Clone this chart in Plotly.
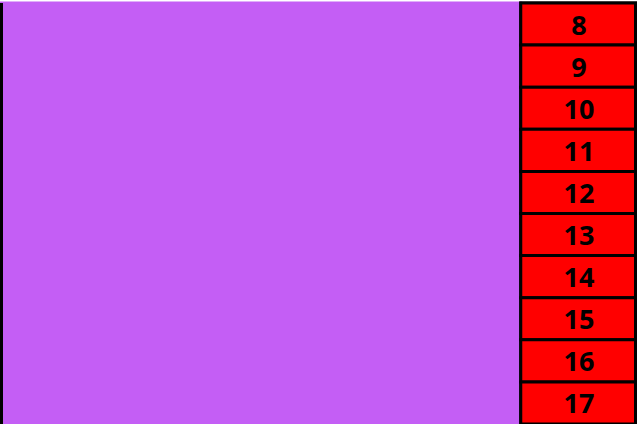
import plotly.graph_objects as go

cell_labels = ["8", "9", "10", "11", "12", "13", "14", "15", "16", "17"]
cell_values = [1, 1, 1, 1, 1, 1, 1, 1, 1, 1]
big_value = 44.8
big_color = "#C45EF5"
cell_color = "#FF0000"

ids = ["big", "grp"] + ["c" + l for l in cell_labels]
labels = ["big", "grp"] + cell_labels
parents = ["", ""] + ["grp"] * len(cell_labels)
values = [big_value, sum(cell_values)] + cell_values
colors = [big_color, cell_color] + [cell_color] * len(cell_labels)
line_colors = [big_color, "black"] + ["black"] * len(cell_labels)
texts = ["", ""] + ["%{label}"] * len(cell_labels)

fig = go.Figure(go.Treemap(
    ids=ids,
    labels=labels,
    parents=parents,
    values=values,
    branchvalues="total",
    sort=False,
    domain=dict(x=[0, 1], y=[0, 1]),
    marker=dict(colors=colors, line=dict(color=line_colors, width=3),
                pad=dict(t=0, l=0, r=0, b=0)),
    tiling=dict(packing="slice-dice", pad=0),
    pathbar=dict(visible=False),
    textposition="middle center",
    texttemplate=texts,
    textfont=dict(family="Open Sans", size=27, color="black", weight="bold"),
    insidetextfont=dict(family="Open Sans", size=27, color="black", weight="bold"),
    hoverinfo="label",
))
fig.update_layout(
    width=637, height=424,
    margin=dict(l=0, r=0, t=3, b=0),
    paper_bgcolor="white",
    uniformtext=dict(minsize=27, mode="show"),
    shapes=[
        dict(type="line", xref="paper", yref="paper", x0=0, x1=0, y0=0, y1=1,
             line=dict(color="black", width=6)),
        dict(type="line", xref="paper", yref="paper", x0=1, x1=1, y0=0, y1=1,
             line=dict(color="black", width=6)),
    ],
)
fig.write_html("out.html", post_script="document.body.style.margin='0';",
               config={"displayModeBar": False})
